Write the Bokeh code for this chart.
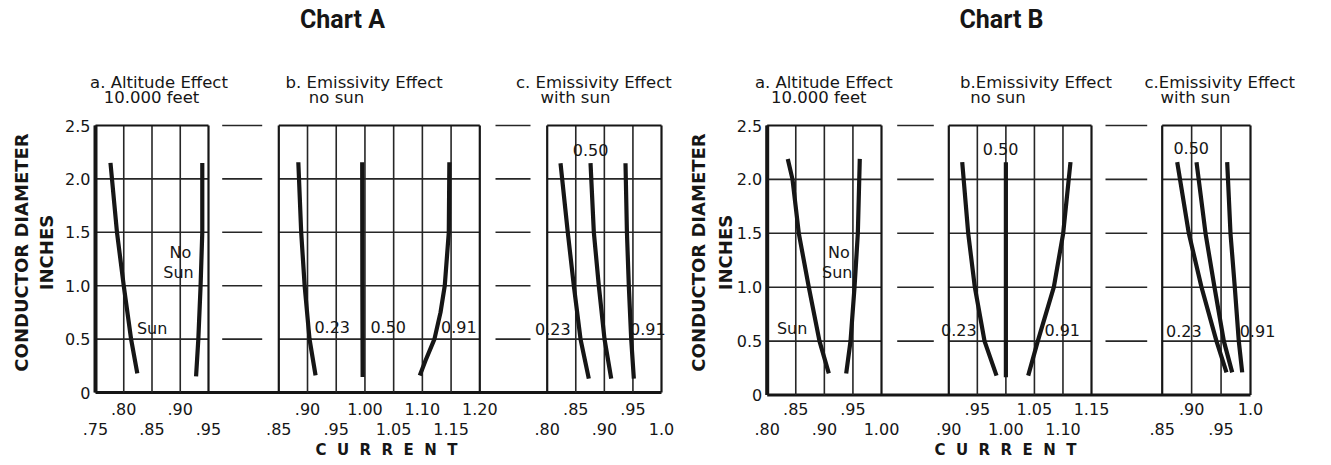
import numpy as np
from bokeh.plotting import figure
from bokeh.models import Range1d
from bokeh.core.properties import value
from bokeh.embed import file_html
from bokeh.resources import INLINE

# ---------------- data ----------------
diam_ticks = [0, 0.5, 1.0, 1.5, 2.0, 2.5]
diam_labels = ["0", "0.5", "1.0", "1.5", "2.0", "2.5"]

# Chart A  a. Altitude Effect 10.000 feet
Aa_ticks = [0.75, 0.80, 0.85, 0.90, 0.95]
Aa_labels = [".75", ".80", ".85", ".90", ".95"]
Aa_sun_x = [0.7765, 0.788, 0.800, 0.813, 0.824]
Aa_sun_y = [2.15, 1.5, 1.0, 0.5, 0.18]
Aa_nosun_x = [0.939, 0.939, 0.936, 0.932, 0.928]
Aa_nosun_y = [2.15, 1.5, 1.0, 0.5, 0.15]

# Chart A  b. Emissivity Effect no sun
Ab_ticks = [0.85, 0.90, 0.95, 1.00, 1.05, 1.10, 1.15, 1.20]
Ab_labels = [".85", ".90", ".95", "1.00", "1.05", "1.10", "1.15", "1.20"]
Ab_e023_x = [0.884, 0.889, 0.895, 0.9035, 0.914]
Ab_e023_y = [2.156, 1.5, 1.0, 0.5, 0.16]
Ab_e050_x = [0.9952, 0.9955, 0.996]
Ab_e050_y = [2.156, 1.0, 0.145]
Ab_e091_x = [1.147, 1.146, 1.139, 1.1316, 1.121, 1.1055, 1.0955]
Ab_e091_y = [2.156, 1.5, 1.0, 0.75, 0.5, 0.3, 0.16]

# Chart A  c. Emissivity Effect with sun
Ac_ticks = [0.80, 0.85, 0.90, 0.95, 1.00]
Ac_labels = [".80", ".85", ".90", ".95", "1.0"]
Ac_e023_x = [0.8233, 0.836, 0.8466, 0.8583, 0.8728]
Ac_e023_y = [2.147, 1.5, 1.0, 0.5, 0.13]
Ac_e050_x = [0.8758, 0.8816, 0.8903, 0.9003, 0.912]
Ac_e050_y = [2.147, 1.5, 1.0, 0.5, 0.13]
Ac_e091_x = [0.937, 0.9395, 0.9428, 0.947, 0.9516]
Ac_e091_y = [2.147, 1.5, 1.0, 0.5, 0.13]

# Chart B  a. Altitude Effect 10.000 feet
Ba_ticks = [0.80, 0.85, 0.90, 0.95, 1.00]
Ba_labels = [".80", ".85", ".90", ".95", "1.00"]
Ba_sun_x = [0.836, 0.8443, 0.8553, 0.8728, 0.8915, 0.9078]
Ba_sun_y = [2.19, 2.0, 1.5, 1.0, 0.5, 0.2]
Ba_nosun_x = [0.962, 0.9586, 0.9528, 0.9458, 0.9382]
Ba_nosun_y = [2.19, 1.5, 1.0, 0.5, 0.2]

# Chart B  b. Emissivity Effect no sun
Bb_ticks = [0.90, 0.95, 1.00, 1.05, 1.10, 1.15]
Bb_labels = [".90", ".95", "1.00", "1.05", "1.10", "1.15"]
Bb_e023_x = [0.9235, 0.934, 0.9456, 0.9626, 0.9836]
Bb_e023_y = [2.16, 1.5, 1.0, 0.5, 0.18]
Bb_e050_x = [1.000, 1.000, 1.000]
Bb_e050_y = [2.16, 1.0, 0.165]
Bb_e091_x = [1.1132, 1.1004, 1.084, 1.0559, 1.0391]
Bb_e091_y = [2.16, 1.5, 1.0, 0.5, 0.18]

# Chart B  c. Emissivity Effect with sun
Bc_ticks = [0.85, 0.90, 0.95, 1.00]
Bc_labels = [".85", ".90", ".95", "1.0"]
Bc_e023_x = [0.8755, 0.8952, 0.9168, 0.9422, 0.9592]
Bc_e023_y = [2.16, 1.5, 1.0, 0.5, 0.21]
Bc_e050_x = [0.9083, 0.9236, 0.9388, 0.9547, 0.9689]
Bc_e050_y = [2.16, 1.5, 1.0, 0.5, 0.21]
Bc_e091_x = [0.9604, 0.966, 0.9733, 0.9801, 0.9859]
Bc_e091_y = [2.16, 1.5, 1.0, 0.5, 0.21]

# ---------------- styles ----------------
INK = "#161616"
GRID = "#262626"
NUM_FONT = value("DejaVu Sans")
BOLD_FONT = value("DejaVu Sans")
TITLE_FONT = value("Roboto")

W, H = 1315, 457
p = figure(width=W, height=H, x_range=Range1d(0, W), y_range=Range1d(H, 0),
           x_axis_location=None, y_axis_location=None, min_border=0,
           output_backend="svg", toolbar_location=None)
p.outline_line_color = None
p.xgrid.visible = False
p.ygrid.visible = False
p.background_fill_color = "white"
p.border_fill_color = "white"


def panel(ticks, labels, curves, notes, box, first=False):
    left, right, bottom, top = box
    x0, x1 = ticks[0], ticks[-1]
    sub = p.subplot(x_source=Range1d(x0, x1), y_source=Range1d(0, 2.5),
                    x_target=Range1d(left, right), y_target=Range1d(bottom, top))
    inner = ticks[1:-1]
    # vertical grid
    sub.segment(x0=inner, y0=[0] * len(inner), x1=inner, y1=[2.5] * len(inner),
                line_color=GRID, line_width=1.6)
    # horizontal grid
    hy = diam_ticks[1:-1]
    sub.segment(x0=[x0] * len(hy), y0=hy, x1=[x1] * len(hy), y1=hy,
                line_color=GRID, line_width=1.6)
    # box
    sub.segment(x0=[x0, x0, x1], y0=[2.5, 0, 0], x1=[x1, x0, x1], y1=[2.5, 2.5, 2.5],
                line_color=INK, line_width=2.2)
    if first:
        sub.segment(x0=[x0], y0=[0], x1=[x0], y1=[2.5], line_color=INK, line_width=4)
        sub.text(x=[x0] * len(diam_ticks), y=diam_ticks, text=diam_labels, x_offset=-5,
                 text_align="right", text_baseline="middle", text_font=NUM_FONT,
                 text_font_size="16px", text_color=INK)
    # curves
    for cx, cy in curves:
        sub.line(cx, cy, line_color=INK, line_width=4.2, line_join="round")
    # curve notes
    if notes:
        nx, ny, nt = notes
        sub.text(x=nx, y=ny, text=nt, text_align="center", text_baseline="middle",
                 text_font=NUM_FONT, text_font_size="16px", text_color=INK)
    # tick labels in two staggered rows
    lab = p.subplot(x_source=Range1d(x0, x1), y_source=Range1d(0, 1),
                    x_target=Range1d(left, right), y_target=Range1d(408, 428))
    rows = [1 if i % 2 == 0 else 0 for i in range(len(ticks))]
    lab.text(x=ticks, y=rows, text=labels, text_align="center", text_baseline="middle",
             text_font=NUM_FONT, text_font_size="16px", text_color=INK)


def chart(layout, panels, gaps, title, subtitles):
    a_left, c_right, bottom, top, cx = layout
    # baseline across chart
    base = p.subplot(x_source=Range1d(a_left, c_right), y_source=Range1d(0, 2.5),
                     x_target=Range1d(a_left, c_right), y_target=Range1d(bottom, top))
    base.segment(x0=[a_left], y0=[0], x1=[c_right], y1=[0], line_color=INK, line_width=3.2)
    for g0, g1 in gaps:
        hy = diam_ticks[1:]
        base.segment(x0=[g0] * len(hy), y0=hy, x1=[g1] * len(hy), y1=hy,
                     line_color=GRID, line_width=1.6)
    for i, pa in enumerate(panels):
        panel(*pa, first=(i == 0))
    # titles
    p.text(x=[cx], y=[19], text=[title], text_align="center", text_baseline="middle",
           text_font=TITLE_FONT, text_font_style="bold", text_font_size="25px", text_color=INK)
    for t, sx, sy in subtitles:
        p.text(x=[sx], y=[sy], text=[t], text_align="center", text_baseline="middle",
               text_font=NUM_FONT, text_font_size="16.5px", text_color=INK)


# Chart A
chart((95, 661, 392, 125, 342),
      [
          (Aa_ticks, Aa_labels, [(Aa_sun_x, Aa_sun_y), (Aa_nosun_x, Aa_nosun_y)],
           ([0.9004, 0.8969, 0.8503], [1.314, 1.126, 0.596], ["No", "Sun", "Sun"]),
           (95, 208, 392, 125)),
          (Ab_ticks, Ab_labels, [(Ab_e023_x, Ab_e023_y), (Ab_e050_x, Ab_e050_y), (Ab_e091_x, Ab_e091_y)],
           ([0.943, 1.0405, 1.1634], [0.611, 0.611, 0.611], ["0.23", "0.50", "0.91"]),
           (278.3, 479.3, 392, 125)),
          (Ac_ticks, Ac_labels, [(Ac_e023_x, Ac_e023_y), (Ac_e050_x, Ac_e050_y), (Ac_e091_x, Ac_e091_y)],
           ([0.8098, 0.8758, 0.976], [0.596, 2.266, 0.596], ["0.23", "0.50", "0.91"]),
           (546.7, 661, 392, 125)),
      ],
      [(221.7, 261.7), (495, 530)],
      "Chart A",
      [("a. Altitude Effect", 158.5, 81.7), ("10.000 feet", 151, 96.7),
       ("b.  Emissivity Effect", 366.3, 81.7), ("no sun", 336, 96.7),
       ("c. Emissivity Effect", 593.3, 81.7), ("with sun", 575, 96.7)])

# Chart B
chart((766.7, 1250, 394.5, 125, 1001),
      [
          (Ba_ticks, Ba_labels, [(Ba_sun_x, Ba_sun_y), (Ba_nosun_x, Ba_nosun_y)],
           ([0.9253, 0.9225, 0.8437], [1.325, 1.139, 0.614], ["No", "Sun", "Sun"]),
           (766.7, 881, 394.5, 125)),
          (Bb_ticks, Bb_labels, [(Bb_e023_x, Bb_e023_y), (Bb_e050_x, Bb_e050_y), (Bb_e091_x, Bb_e091_y)],
           ([0.9175, 0.9906, 1.0987], [0.605, 2.284, 0.605], ["0.23", "0.50", "0.91"]),
           (948.3, 1091, 394.5, 125)),
          (Bc_ticks, Bc_labels, [(Bc_e023_x, Bc_e023_y), (Bc_e050_x, Bc_e050_y), (Bc_e091_x, Bc_e091_y)],
           ([0.8867, 0.8993, 1.0119], [0.592, 2.29, 0.592], ["0.23", "0.50", "0.91"]),
           (1161.7, 1250, 394.5, 125)),
      ],
      [(896.7, 933.3), (1105, 1146.7)],
      "Chart B",
      [("a. Altitude Effect", 823.3, 81.7), ("10.000 feet", 818.3, 96.7),
       ("b.Emissivity Effect", 1035.5, 81.7), ("no sun", 997.5, 96.7),
       ("c.Emissivity Effect", 1219.2, 81.7), ("with sun", 1195, 96.7)])

# axis titles
NB = "\u00a0\u00a0"
for x_cd, x_in, x_cur in [(21, 46, 386), (698, 725, 1005)]:
    p.text(x=[x_cd], y=[252], text=["CONDUCTOR DIAMETER"], angle=np.pi / 2,
           text_align="center", text_baseline="middle", text_font=BOLD_FONT,
           text_font_style="bold", text_font_size="18px", text_color=INK)
    p.text(x=[x_in], y=[252], text=["INCHES"], angle=np.pi / 2,
           text_align="center", text_baseline="middle", text_font=BOLD_FONT,
           text_font_style="bold", text_font_size="18px", text_color=INK)
    p.text(x=[x_cur], y=[449], text=[NB.join("CURRENT")], text_align="center",
           text_baseline="middle", text_font=BOLD_FONT, text_font_style="bold",
           text_font_size="15px", text_color=INK)

open("out.html", "w").write(file_html(p, INLINE))
